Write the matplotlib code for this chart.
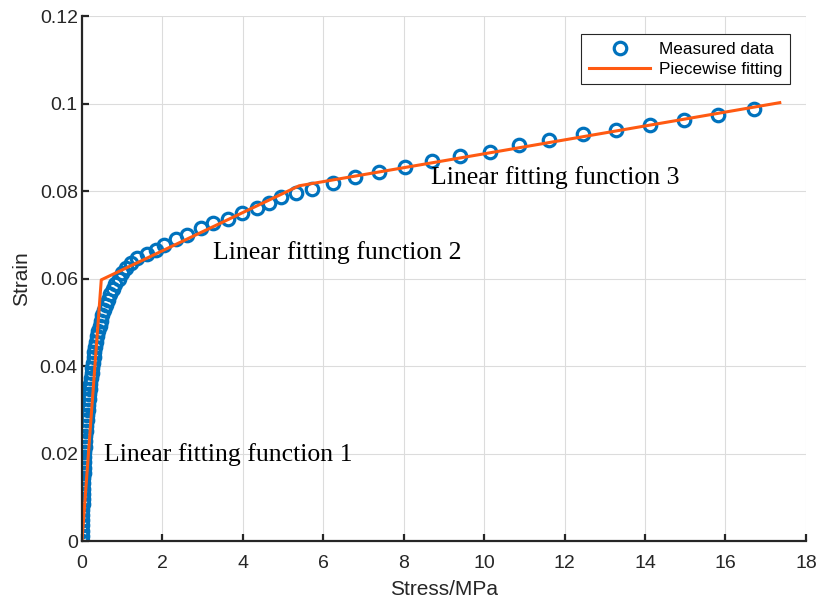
import numpy as np
import matplotlib.pyplot as plt

stress = [0.00, 0.00, 0.00, 0.01, 0.01, 0.01, 0.01, 0.02, 0.02, 0.02,
          0.03, 0.03, 0.03, 0.04, 0.04, 0.05, 0.05, 0.06, 0.07, 0.08,
          0.08, 0.09, 0.10, 0.12, 0.13, 0.14, 0.15, 0.17, 0.18, 0.19,
          0.21, 0.22, 0.24, 0.25, 0.27, 0.29, 0.31, 0.33, 0.36, 0.38,
          0.41, 0.44, 0.48, 0.51, 0.55, 0.59, 0.64, 0.70, 0.76, 0.83,
          0.91, 1.00, 1.10, 1.22, 1.38, 1.62, 1.85,
          2.04, 2.33, 2.61, 2.95, 3.25, 3.62, 3.99, 4.34, 4.64, 4.96,
          5.31, 5.73, 6.23, 6.80, 7.39, 8.04, 8.71, 9.40, 10.15, 10.87,
          11.62, 12.46, 13.28, 14.12, 14.96, 15.81, 16.70]
strain = [0.0000, 0.0012, 0.0024, 0.0036, 0.0048, 0.0060, 0.0072, 0.0084, 0.0096, 0.0108,
          0.0120, 0.0132, 0.0144, 0.0156, 0.0168, 0.0180, 0.0192, 0.0204, 0.0216, 0.0228,
          0.0240, 0.0252, 0.0264, 0.0276, 0.0288, 0.0300, 0.0312, 0.0324, 0.0336, 0.0348,
          0.0360, 0.0372, 0.0384, 0.0396, 0.0408, 0.0420, 0.0432, 0.0444, 0.0456, 0.0468,
          0.0480, 0.0492, 0.0504, 0.0516, 0.0528, 0.0540, 0.0552, 0.0564, 0.0576, 0.0588,
          0.0600, 0.0612, 0.0624, 0.0636, 0.0647, 0.0656, 0.0666,
          0.0677, 0.0691, 0.0700, 0.0716, 0.0727, 0.0736, 0.0750, 0.0762, 0.0773, 0.0787,
          0.0796, 0.0805, 0.0819, 0.0832, 0.0844, 0.0855, 0.0869, 0.0880, 0.0890, 0.0906,
          0.0916, 0.0931, 0.0940, 0.0951, 0.0963, 0.0974, 0.0988]

# piecewise linear fit (breakpoints)
fit_stress = [0.0, 0.48, 5.4, 17.35]
fit_strain = [0.0, 0.0597, 0.0812, 0.1002]

labels = ['Linear fitting function 1', 'Linear fitting function 2', 'Linear fitting function 3']
label_pos = [(0.55, 0.0197), (3.25, 0.0659), (8.69, 0.0830)]

blue = '#0072BD'
orange = '#FF5A12'
dark = '#262626'

plt.rcParams['font.family'] = ['Liberation Sans', 'DejaVu Sans']

fig = plt.figure(figsize=(8.18, 6.03), dpi=100)
ax = fig.add_axes([0.1002, 0.1028, 0.885, 0.8706])

ax.plot(stress, strain, 'o', color=blue, markerfacecolor='none',
        markersize=9, markeredgewidth=2.3, label='Measured data')
ax.plot(fit_stress, fit_strain, '-', color=orange, linewidth=2.2,
        label='Piecewise fitting')

for txt, (x, y) in zip(labels, label_pos):
    ax.text(x, y, txt, fontsize=18.5, family='Liberation Serif',
            ha='left', va='center', color='black')

ax.set_xlim(0, 18)
ax.set_ylim(0, 0.12)
ax.set_xticks(np.arange(0, 19, 2))
ax.set_yticks([0, 0.02, 0.04, 0.06, 0.08, 0.1, 0.12])
ax.set_yticklabels(['0', '0.02', '0.04', '0.06', '0.08', '0.1', '0.12'])

ax.grid(True, color='#dcdcdc', linewidth=0.8)
ax.set_axisbelow(True)
ax.spines['top'].set_visible(False)
ax.spines['right'].set_visible(False)
for s in ('left', 'bottom'):
    ax.spines[s].set_linewidth(1.6)
    ax.spines[s].set_color(dark)
ax.tick_params(direction='in', length=5, width=1.6, color=dark,
               labelsize=14, labelcolor=dark)
ax.tick_params(axis='x', pad=10)
ax.tick_params(axis='y', pad=3)

ax.set_xlabel('Stress/MPa', fontsize=15, color=dark, labelpad=6)
ax.set_ylabel('Strain', fontsize=15, color=dark, labelpad=6)

leg = ax.legend(loc='upper right', bbox_to_anchor=(0.978, 0.966), fontsize=12.3,
                fancybox=False, framealpha=1, edgecolor=dark,
                handlelength=3.6, borderpad=0.45, labelspacing=0.3,
                handletextpad=0.5, borderaxespad=0)
leg.get_frame().set_linewidth(0.8)

fig.savefig('out.png', dpi=100)
